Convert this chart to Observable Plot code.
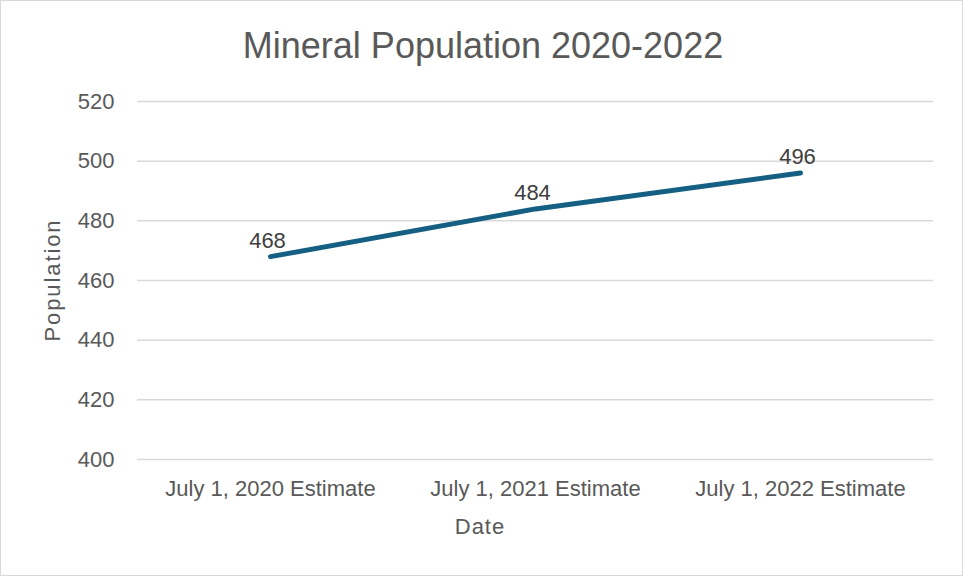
<!DOCTYPE html>
<html>
<head>
<meta charset="utf-8">
<script src="https://cdn.jsdelivr.net/npm/d3@7"></script>
<script src="https://cdn.jsdelivr.net/npm/@observablehq/plot@0.6"></script>
<style>
  html, body { margin: 0; padding: 0; background: #fff; }
  #chart { position: relative; width: 963px; height: 576px; font-family: "Liberation Sans", Arial, sans-serif; }
  #chart svg { position: absolute; left: 0; top: 0; outline: 1px solid #d9d9d9; outline-offset: -1px; }
  .title { position: absolute; left: 0; width: 966px; top: 24px; text-align: center; font-size: 36px; color: #595959; line-height: 44px; }
  .xlabel { position: absolute; left: 380px; width: 200px; top: 513px; text-align: center; font-size: 22px; color: #595959; line-height: 28px; letter-spacing: 1px; }
  .ylabel { position: absolute; left: 53px; top: 280px; transform: translate(-50%, -50%) rotate(-90deg); font-size: 22px; color: #595959; white-space: nowrap; line-height: 28px; letter-spacing: 1.9px; }
</style>
</head>
<body>
<div id="chart">
  <div class="title">Mineral Population 2020-2022</div>
  <div class="xlabel">Date</div>
  <div class="ylabel">Population</div>
</div>
<script>
const categories = ["July 1, 2020 Estimate", "July 1, 2021 Estimate", "July 1, 2022 Estimate"];
const population = [468, 484, 496];
const yTicks = [400, 420, 440, 460, 480, 500, 520];

const data = categories.map((c, i) => ({date: c, value: population[i]}));

const plot = Plot.plot({
  width: 963,
  height: 576,
  marginLeft: 137,
  marginRight: 30,
  marginTop: 101,
  marginBottom: 117,
  style: { fontFamily: "'Liberation Sans', Arial, sans-serif", background: "transparent", overflow: "visible" },
  x: { type: "point", domain: categories, padding: 0.5, label: null },
  y: { domain: [400, 520], label: null },
  marks: [
    Plot.gridY(yTicks, { stroke: "#d9d9d9", strokeOpacity: 1, strokeWidth: 1.5 }),
    Plot.axisY(yTicks, { tickSize: 0, tickPadding: 23, fontSize: 22, fill: "#595959", label: null, letterSpacing: "0.3px" }),
    Plot.axisX({ tickSize: 0, tickPadding: 21, fontSize: 22, fill: "#595959", label: null, letterSpacing: "0.5px" }),
    Plot.line(data, { x: "date", y: "value", stroke: "#156082", strokeWidth: 5, strokeLinecap: "round", strokeLinejoin: "round" }),
    Plot.text(data, { x: "date", y: "value", text: d => String(d.value), lineAnchor: "bottom", dy: -9, dx: -3, fontSize: 22, fill: "#404040", letterSpacing: "0.3px" })
  ]
});
document.getElementById("chart").prepend(plot);
</script>
</body>
</html>
